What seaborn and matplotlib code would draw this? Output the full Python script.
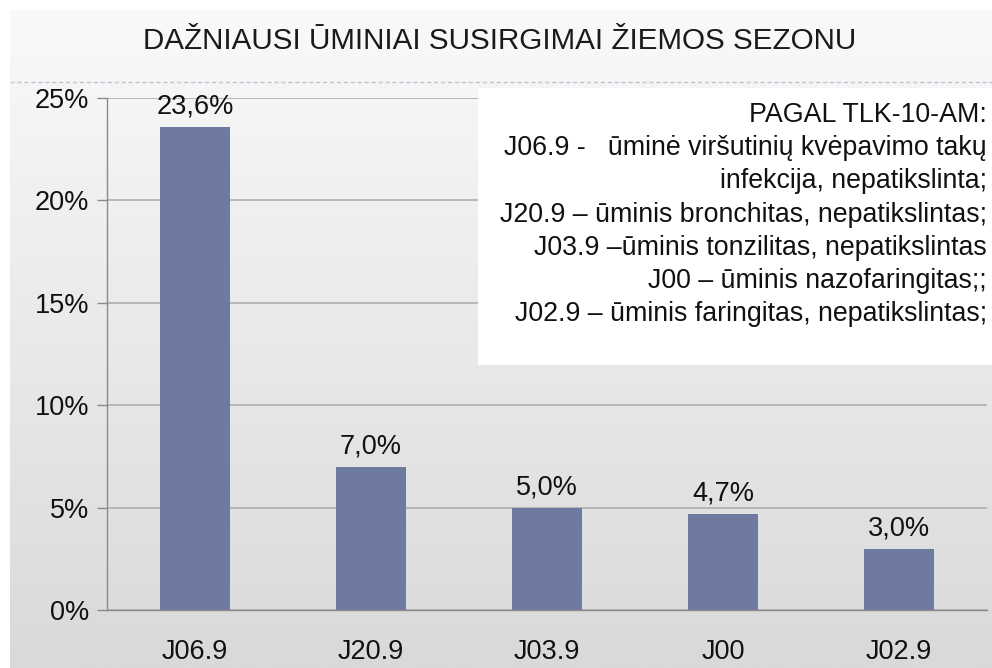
import numpy as np
import pandas as pd
import seaborn as sns
import matplotlib.pyplot as plt
from matplotlib.patches import Rectangle
from matplotlib.lines import Line2D

# data
kodai = ['J06.9', 'J20.9', 'J03.9', 'J00', 'J02.9']
procentai = [23.6, 7.0, 5.0, 4.7, 3.0]
y_ticks = [0, 5, 10, 15, 20, 25]
y_tick_labels = ['0%', '5%', '10%', '15%', '20%', '25%']
title = 'DAŽNIAUSI ŪMINIAI SUSIRGIMAI ŽIEMOS SEZONU'
legend_lines = [
    'PAGAL TLK-10-AM:',
    'J06.9 -   ūminė viršutinių kvėpavimo takų',
    'infekcija, nepatikslinta;',
    'J20.9 – ūminis bronchitas, nepatikslintas;',
    'J03.9 –ūminis tonzilitas, nepatikslintas',
    'J00 – ūminis nazofaringitas;;',
    'J02.9 – ūminis faringitas, nepatikslintas;',
]

sns.set_theme(style='white')
plt.rcParams['font.family'] = ['Liberation Sans', 'DejaVu Sans']

W, H = 992, 668
fig = plt.figure(figsize=(W / 100, H / 100), dpi=100)

# background gradient (light at top, grey at bottom)
bg = fig.add_axes([0, 0, 1, 1])
grad = np.linspace(250, 217, 256).reshape(-1, 1) / 255.0
bg.imshow(np.dstack([grad, grad, grad]), aspect='auto', extent=[0, 1, 0, 1])
bg.add_patch(Rectangle((0, 0), 10 / W, 1, color='white', lw=0))
bg.add_patch(Rectangle((0, 1 - 10 / H), 1, 10 / H, color='white', lw=0))
bg.set_xlim(0, 1)
bg.set_ylim(0, 1)
bg.axis('off')

# dashed separator under title
fig.add_artist(Line2D([10 / W, 1], [1 - 82 / H] * 2, transform=fig.transFigure,
                      color='#b9c6d3', lw=1, ls=(0, (3, 2))))

fig.text(500 / W, 1 - 41 / H, title, ha='center', va='center', fontsize=21.3, color='#1a1a1a')

ax = fig.add_axes([107 / W, 1 - 610 / H, 880 / W, 512 / H])
ax.set_facecolor('none')
df = pd.DataFrame({'kodas': kodai, 'proc': procentai})
sns.barplot(data=df, x='kodas', y='proc', color='#6f7aa1', width=0.4, saturation=1,
            linewidth=0, edgecolor='none', ax=ax)
ax.bar_label(ax.containers[0], labels=[f'{v:.1f}%'.replace('.', ',') for v in procentai],
             padding=5, fontsize=19.5, color='#111111')

ax.set_ylim(0, 25)
ax.set_xlim(-0.5, 4.5)
ax.set_yticks(y_ticks)
ax.set_yticklabels(y_tick_labels, fontsize=19.5, color='#111111')
ax.set_xticks(range(len(kodai)))
ax.set_xticklabels(kodai, fontsize=19.5, color='#111111')
ax.set_xticks(np.arange(-0.5, len(kodai), 1.0), minor=True)
ax.tick_params(axis='x', which='major', length=0, pad=21)
ax.tick_params(axis='x', which='minor', length=7, width=1, color='#8a8a8a', direction='out')
ax.tick_params(axis='y', length=7, width=1, color='#8a8a8a', direction='out', pad=6, left=True)
ax.set_xlabel('')
ax.set_ylabel('')
ax.set_axisbelow(True)
ax.yaxis.grid(True, color='#b3b3b3', lw=1.3)
for s in ['top', 'right']:
    ax.spines[s].set_visible(False)
for s in ['left', 'bottom']:
    ax.spines[s].set_color('#8a8a8a')
    ax.spines[s].set_linewidth(1)

# white legend box with code explanations
box = Rectangle((478 / W, 1 - 365 / H), (W - 478) / W, 277 / H, transform=fig.transFigure,
                facecolor='white', edgecolor='none', zorder=3, clip_on=False)
ax.add_patch(box)
ax.text(987 / W, 1 - 102 / H, '\n'.join(legend_lines), transform=fig.transFigure,
        ha='right', va='top', multialignment='right', fontsize=19.3, linespacing=1.36,
        color='#111111', zorder=4)

fig.savefig('out.png', dpi=100)
